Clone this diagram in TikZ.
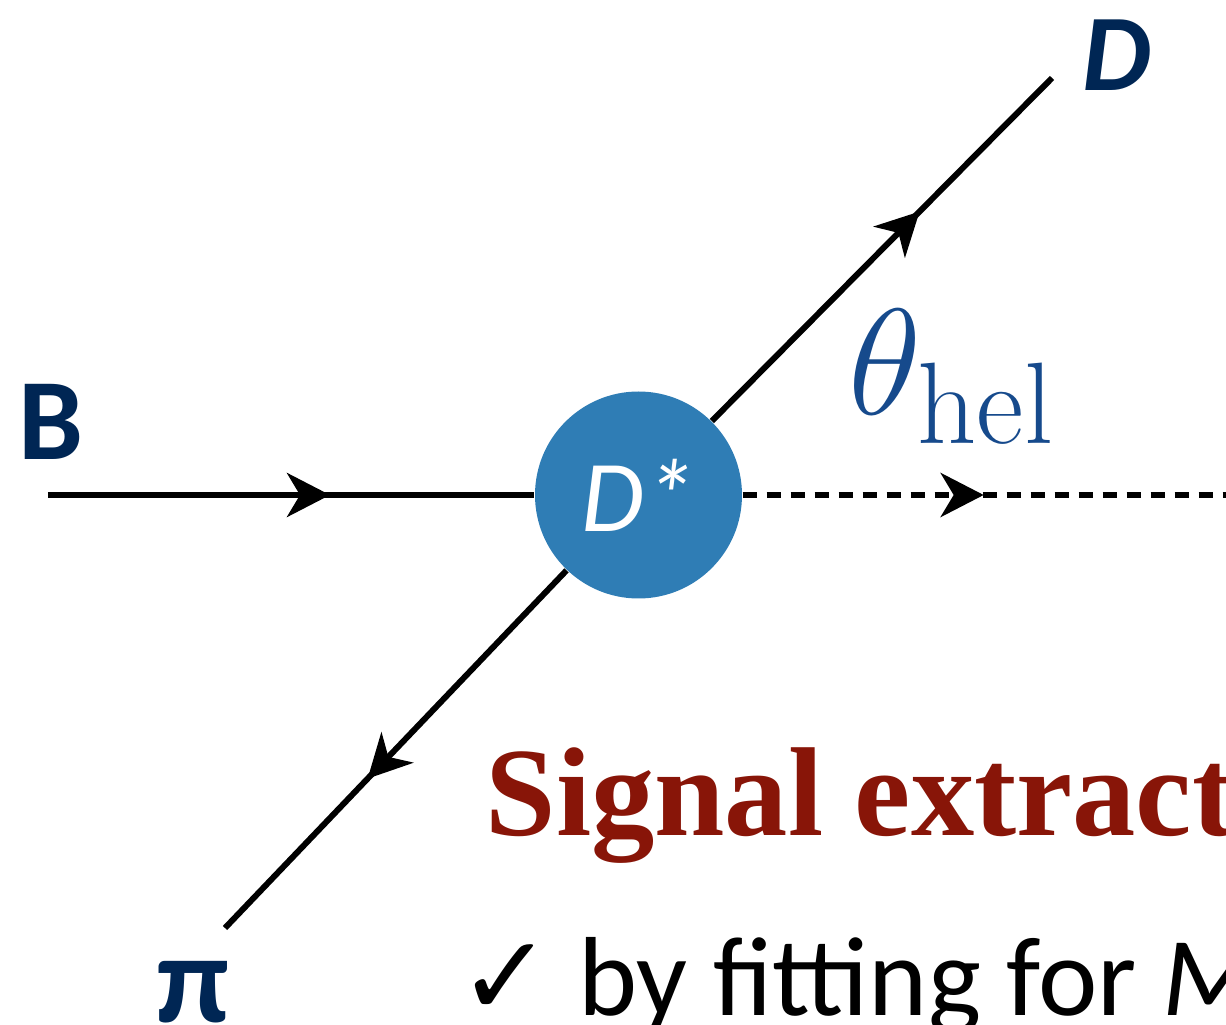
\RequirePackage{fix-cm}
\documentclass[tikz,border=0pt]{standalone}
\usepackage{fontspec}
\newfontfamily\calibri{Carlito}
\newfontfamily\serifbold{Liberation Serif}
\newfontfamily\symbolfont{DejaVu Sans}
\usetikzlibrary{arrows.meta,decorations.markings}

\definecolor{labelblue}{RGB}{0,38,84}
\definecolor{helblue}{RGB}{22,74,140}
\definecolor{blobblue}{RGB}{47,125,181}
\definecolor{titlered}{RGB}{136,21,8}

\tikzset{
  line/.style={line width=1.7pt},
  midarrow/.style={postaction={decorate},
    decoration={markings, mark=at position #1 with {\arrow{Stealth[length=4.3mm,width=4.4mm,inset=1.3mm]}}}},
  particle/.style={font=\calibri\bfseries\fontsize{33}{36}\selectfont, text=labelblue, inner sep=0pt},
}

\begin{document}
\begin{tikzpicture}
  \useasboundingbox (0,0) rectangle (12.26,10.24);

  % Vertex D*
  \node[circle, fill=blobblue, minimum size=2.07cm, inner sep=0pt, text=white,
        font=\calibri\itshape\fontsize{29}{31}\selectfont] (Dstar) at (6.385,5.29) {D*};

  % Line ends
  \coordinate (Bin) at (0.48,5.29);
  \coordinate (Dout) at (10.52,9.46);
  \coordinate (piout) at (2.25,0.96);
  \coordinate (axis) at (12.5,5.29);

  % Lines
  \draw[line, midarrow=2.82cm] (Bin) -- (Dstar);
  \draw[line, midarrow=2.95cm] (Dstar) -- (Dout);
  \draw[line, midarrow=2.88cm] (Dstar) -- (piout);
  \draw[line, dash pattern=on 0.14cm off 0.1cm, midarrow=2.41cm] (Dstar) -- (axis);

  % Labels
  \node[particle] (Blab) at (0.51,6.02) {B};
  \node[particle, font=\calibri\bfseries\itshape\fontsize{31}{34}\selectfont] (Dlab) at (11.17,9.69) {D};
  \node[particle, anchor=north, font=\calibri\bfseries\fontsize{36}{38}\selectfont] (pilab) at (1.93,0.63) {π};
  \node[text=helblue, anchor=base west, inner sep=0pt, font=\fontsize{43}{46}\selectfont] (hel) at (8.48,6.09)
    {$\theta_{\hbox{\fontsize{33}{35}\selectfont hel}}$};

  % Text
  \node[anchor=base west, inner sep=0pt, text=titlered,
        font=\serifbold\bfseries\fontsize{36}{40}\selectfont] (title) at (4.85,1.89) {Signal extract};
  \node[anchor=base west, inner sep=0pt, font=\calibri\fontsize{32}{35}\selectfont] (fit) at (4.58,0.09) {{\symbolfont ✓} by fitting for \textit{M}};
\end{tikzpicture}
\end{document}
